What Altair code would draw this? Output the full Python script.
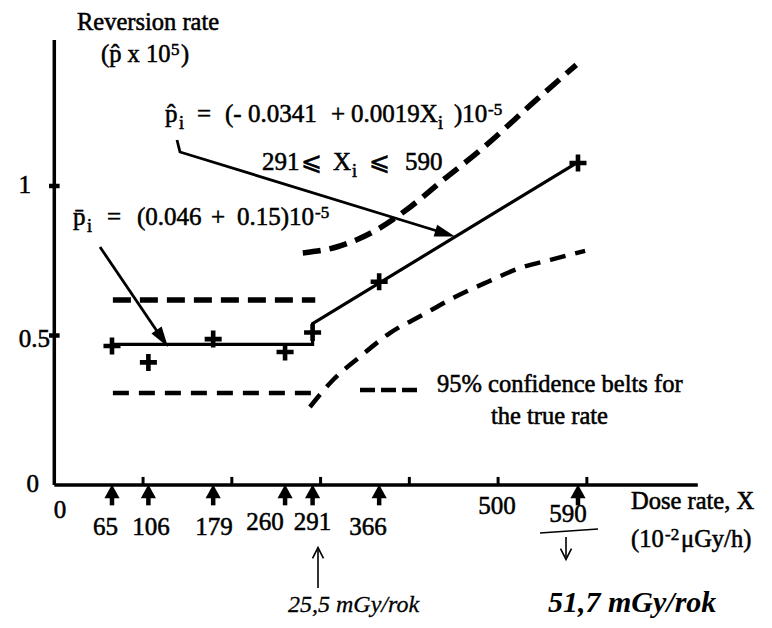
import altair as alt
import pandas as pd

# ---------------- data ----------------
dose_obs = [65, 106, 179, 260, 291, 366, 590]
rate_obs = [0.465, 0.41, 0.488, 0.445, 0.51, 0.68, 1.077]

# fitted lines (solid): mean level for 65..291, regression for 291..590
fit_dose = [65, 291, 291, 590]
fit_rate = [0.47, 0.47, 0.54, 1.08]

# 95% confidence belts (dashed)
belt_flat_dose = [66, 294]
belt_flat_upper = [0.619, 0.619]
belt_flat_lower = [0.308, 0.308]
belt_reg_up_dose = [280, 318, 367, 401, 438, 480, 543, 588]
belt_reg_up_rate = [0.776, 0.796, 0.86, 0.93, 1.02, 1.12, 1.288, 1.405]
belt_reg_lo_dose = [288, 314, 344, 378, 415, 449, 488, 525, 559, 598]
belt_reg_lo_rate = [0.261, 0.351, 0.428, 0.508, 0.569, 0.625, 0.679, 0.726, 0.753, 0.783]

x_tick_vals = [100, 200, 300, 400, 500, 600]
y_tick_vals = [0.5, 1.0]
x_label_text = ["65", "106", "179", "260", "291", "366", "500", "590"]
y_label_text = ["1", "0.5", "0"]

# ---------------- layout helpers ----------------
X0, X1 = -52.16, 799.57
Y0, Y1 = -0.4448, 1.5953
W, H = 756, 610
xs = alt.Scale(domain=[X0, X1], nice=False, zero=False)
ys = alt.Scale(domain=[Y0, Y1], nice=False, zero=False)


def px2d(px):
    return (px - 54.3) / 0.8876


def py2v(py):
    return (485 - py) / 299


def enc(**kw):
    e = dict(
        x=alt.X("x:Q", scale=xs, axis=None),
        y=alt.Y("y:Q", scale=ys, axis=None),
    )
    e.update(kw)
    return e


FONT = "Liberation Serif"
BLACK = "#000000"
TSTROKE = 0.55

# ---------------- axes (hand drawn style) ----------------
axes_df = pd.DataFrame({
    "x": [0, 0], "y": [0, 0], "x2": [0, 725], "y2": [py2v(40), 0]
})
axes = alt.Chart(axes_df).mark_rule(color=BLACK, strokeWidth=3.5).encode(
    x=alt.X("x:Q", scale=xs, axis=None), y=alt.Y("y:Q", scale=ys, axis=None),
    x2="x2:Q", y2="y2:Q")

xt_df = pd.DataFrame({"x": x_tick_vals, "y": [0] * 6, "y2": [0.027] * 6})
xticks = alt.Chart(xt_df).mark_rule(color=BLACK, strokeWidth=3).encode(
    x=alt.X("x:Q", scale=xs, axis=None), y=alt.Y("y:Q", scale=ys, axis=None), y2="y2:Q")

yt_df = pd.DataFrame({"x": [-6, -6], "x2": [6, 6], "y": y_tick_vals})
yticks = alt.Chart(yt_df).mark_rule(color=BLACK, strokeWidth=4.5).encode(
    x=alt.X("x:Q", scale=xs, axis=None), x2="x2:Q", y=alt.Y("y:Q", scale=ys, axis=None))

# upward arrows under the x axis at every observed dose
arr_df = pd.DataFrame({"x": dose_obs, "y": [-0.024] * len(dose_obs)})
up_heads = alt.Chart(arr_df).mark_point(
    shape="M0,-1 L-1,0.8 L1,0.8 Z", filled=True, size=230, color=BLACK, opacity=1,
    strokeWidth=0
).encode(**enc())
stem_df = pd.DataFrame({"x": dose_obs, "y": [-0.03] * len(dose_obs), "y2": [-0.068] * len(dose_obs)})
up_stems = alt.Chart(stem_df).mark_rule(color=BLACK, strokeWidth=4.5).encode(
    x=alt.X("x:Q", scale=xs, axis=None), y=alt.Y("y:Q", scale=ys, axis=None), y2="y2:Q")

# ---------------- solid fitted line ----------------
fit_df = pd.DataFrame({"x": fit_dose, "y": fit_rate, "o": range(len(fit_dose))})
fit = alt.Chart(fit_df).mark_line(color=BLACK, strokeWidth=3.2).encode(
    **enc(order=alt.Order("o:Q")))

# ---------------- dashed belts ----------------
rows = []
for s, xsv, ysv in [
    ("fu", belt_flat_dose, belt_flat_upper),
    ("fl", belt_flat_dose, belt_flat_lower),
    ("ru", belt_reg_up_dose, belt_reg_up_rate),
    ("rl", belt_reg_lo_dose, belt_reg_lo_rate),
]:
    for i, (a, b) in enumerate(zip(xsv, ysv)):
        rows.append({"s": s, "x": a, "y": b, "o": i})
belt_df = pd.DataFrame(rows)
belts_thin = alt.Chart(belt_df[belt_df.s.isin(["fl", "rl"])]).mark_line(
    color=BLACK, strokeWidth=4.5, strokeDash=[16, 10], interpolate="monotone"
).encode(**enc(detail="s:N", order=alt.Order("o:Q")))
belts_thick = alt.Chart(belt_df[belt_df.s.isin(["fu", "ru"])]).mark_line(
    color=BLACK, strokeWidth=5.5, strokeDash=[18, 9], interpolate="monotone"
).encode(**enc(detail="s:N", order=alt.Order("o:Q")))

leg_df = pd.DataFrame({"x": [px2d(360), px2d(418)], "y": [py2v(390)] * 2, "o": [0, 1]})
legend_dash = alt.Chart(leg_df).mark_line(
    color=BLACK, strokeWidth=4.5, strokeDash=[15, 6]).encode(**enc(order=alt.Order("o:Q")))

# ---------------- observed points (plus signs) ----------------
obs_df = pd.DataFrame({"x": dose_obs, "y": rate_obs})
obs = alt.Chart(obs_df).mark_point(
    shape="M-1,-0.27 H1 V0.27 H-1 Z M-0.27,-1 H0.27 V1 H-0.27 Z",
    filled=True, size=290, color=BLACK, opacity=1, strokeWidth=0).encode(**enc())

# ---------------- annotation arrows ----------------
a1 = pd.DataFrame({"x": [px2d(177), px2d(180), px2d(447)],
                   "y": [py2v(140), py2v(152), py2v(234)], "o": [0, 1, 2]})
a2 = pd.DataFrame({"x": [px2d(100), px2d(163)], "y": [py2v(247), py2v(340)], "o": [0, 1]})
arrow1 = alt.Chart(a1).mark_line(color=BLACK, strokeWidth=2.8).encode(**enc(order=alt.Order("o:Q")))
arrow2 = alt.Chart(a2).mark_line(color=BLACK, strokeWidth=2.8).encode(**enc(order=alt.Order("o:Q")))
head1 = alt.Chart(pd.DataFrame({"x": [px2d(455)], "y": [py2v(236.5)]})).mark_point(
    shape="M0,0 L-2,-0.6 L-2,0.6 Z", filled=True, size=420, color=BLACK, opacity=1, angle=17
).encode(**enc())
head2 = alt.Chart(pd.DataFrame({"x": [px2d(168)], "y": [py2v(347)]})).mark_point(
    shape="M0,0 L-2,-0.6 L-2,0.6 Z", filled=True, size=420, color=BLACK, opacity=1, angle=56
).encode(**enc())

# ---------------- texts (pieces: text, left px, baseline py, size) ----------------
pieces = [
    ("Reversion rate", 77, 30, 24.5),
    ("(p\u0302 x 10", 101, 62, 24.5),
    ("5", 171, 55, 17),
    (")", 181, 62, 24.5),
    # p-hat equation
    ("p\u0302", 165, 122, 25),
    ("i", 179, 129, 18),
    ("=", 197, 122, 25),
    ("(- 0.0341", 225, 122, 25),
    ("+", 331, 122, 25),
    ("0.0019X", 351, 122, 25),
    ("i", 438, 129, 18),
    (")10", 454, 122, 25),
    ("-5", 488, 115, 17),
    # range
    ("291", 262, 170, 25),
    ("\u2a7d", 301, 170, 25),
    ("X", 333, 170, 25),
    ("i", 352, 177, 18),
    ("\u2a7d", 369, 170, 25),
    ("590", 405, 170, 25),
    # p-bar equation
    ("p\u0304", 73, 225, 25),
    ("i", 87, 232, 18),
    ("=", 107, 225, 25),
    ("(0.046", 137, 225, 25),
    ("+", 211, 225, 25),
    ("0.15)10", 237, 225, 25),
    ("-5", 315, 218, 17),
    # legend
    ("95%  confidence belts for", 437, 392, 24.5),
    ("the true rate", 491, 424, 24.5),
    # axis title
    ("Dose rate, X", 631, 509, 24.5),
    ("(10", 631, 547, 24.5),
    ("-2", 665, 540, 17),
    ("\u03bcGy/h)", 681, 547, 24.5),
]
pieces_df = pd.DataFrame(
    [{"t": t, "x": px2d(a), "y": py2v(b), "s": s} for t, a, b, s in pieces])
main_texts = alt.Chart(pieces_df).mark_text(
    font=FONT, align="left", baseline="alphabetic", color=BLACK,
    stroke=BLACK, strokeWidth=TSTROKE
).encode(**enc(text="t:N", size=alt.Size("s:Q", scale=None, legend=None)))


def text_layer(items, size=25, align="left", baseline="alphabetic", style="normal",
               weight="normal", font=FONT, sw=TSTROKE):
    df = pd.DataFrame(items, columns=["t", "x", "y"])
    return alt.Chart(df).mark_text(
        font=font, fontSize=size, align=align, baseline=baseline, color=BLACK,
        fontStyle=style, fontWeight=weight, stroke=BLACK, strokeWidth=sw
    ).encode(**enc(text="t:N"))


x_label_pos = [(105.5, 535), (151, 535), (214, 535), (265, 530), (312.5, 530),
               (368, 535), (497, 514), (568, 522)]
xlab = text_layer(
    [(t, px2d(p[0]), py2v(p[1])) for t, p in zip(x_label_text, x_label_pos)] +
    [("0", px2d(60), py2v(518))],
    size=25, align="center")

y_label_pos = [(31, 193), (50, 347), (39, 492)]
ylab = text_layer(
    [(t, px2d(p[0]), py2v(p[1])) for t, p in zip(y_label_text, y_label_pos)],
    size=25, align="right")

# handwritten notes
hand = text_layer([("25,5 mGy/rok", px2d(288), py2v(612))], size=24, style="italic", sw=0.3)
hand2 = text_layer([("51,7 mGy/rok", px2d(548), py2v(612))], size=30, style="italic",
                   weight="bold", sw=0)

hd_rules = pd.DataFrame({
    "x": [px2d(318), px2d(540), px2d(566)],
    "y": [py2v(588), py2v(533), py2v(537)],
    "x2": [px2d(318), px2d(598), px2d(566)],
    "y2": [py2v(550), py2v(529), py2v(557)],
})
hand_lines = alt.Chart(hd_rules).mark_rule(color=BLACK, strokeWidth=1.6).encode(
    x=alt.X("x:Q", scale=xs, axis=None), y=alt.Y("y:Q", scale=ys, axis=None),
    x2="x2:Q", y2="y2:Q")
hd_heads = pd.DataFrame({"x": [px2d(318), px2d(566)], "y": [py2v(553), py2v(554)],
                         "a": [0, 180]})
hand_heads = alt.Chart(hd_heads).mark_point(
    shape="M-1,1 L0,-1 L1,1", filled=False, size=120, color=BLACK, strokeWidth=1.6, opacity=1
).encode(**enc(angle=alt.Angle("a:Q", scale=None)))

chart = alt.layer(
    belts_thin, belts_thick, legend_dash, fit, axes, xticks, yticks, up_stems, up_heads, obs,
    arrow1, arrow2, head1, head2, main_texts, xlab, ylab, hand, hand2, hand_lines, hand_heads
).properties(
    width=W, height=H, autosize=alt.AutoSizeParams(type="none"), padding=0,
    background="white"
).configure_view(stroke=None)

chart.save("out.html", embed_options={"renderer": "svg", "actions": False})
